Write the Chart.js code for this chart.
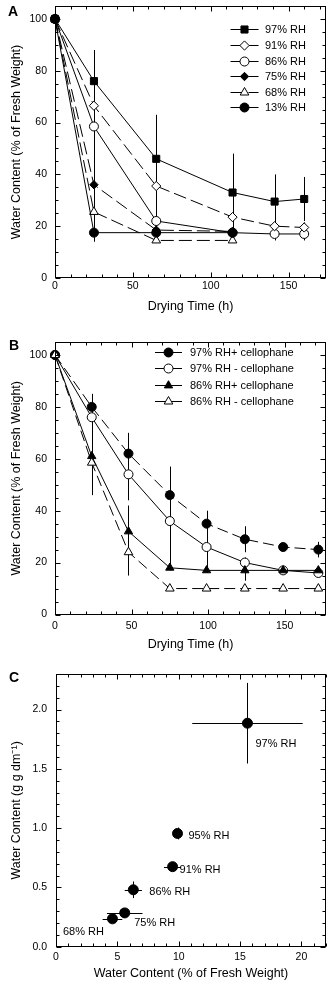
<!DOCTYPE html>
<html>
<head>
<meta charset="utf-8">
<script src="https://cdn.jsdelivr.net/npm/chart.js@4.4.1/dist/chart.umd.min.js"></script>
<style>
  html, body { margin: 0; padding: 0; background: #fff; }
  body { width: 332px; height: 982px; position: relative; overflow: hidden; }
  canvas { position: absolute; left: 0; }
</style>
</head>
<body>
<canvas id="chartA" width="332" height="316" style="top:0px"></canvas>
<canvas id="chartB" width="332" height="318" style="top:336px"></canvas>
<canvas id="chartC" width="332" height="318" style="top:664px"></canvas>
<script>
// ---- Panel A: drying at different RH ----
const timeA = [0, 25, 65, 114, 141, 160];
const timeAShort = [0, 25, 65, 114];
const rh97A = [100, 76, 46, 33, 29.5, 30.5];
const rh97AErr = [0, 12, 17, 15, 10.5, 8.5];
const rh91A = [100, 66.5, 35.5, 23.5, 20, 19.5];
const rh91AErr = [0, 10, 12, 5, 2, 2];
const rh86A = [100, 58.5, 22, 17.5, 17, 17];
const rh86AErr = [0, 20, 5, 1, 2.5, 2.5];
const rh75A = [100, 36, 18.5, 18];
const rh75AErr = [0, 12, 1, 1];
const rh68A = [100, 25.5, 14.5, 14.5];
const rh68AErr = [0, 10, 1, 1];
const rh13A = [100, 17.5, 17.5, 17.5];
const rh13AErr = [0, 3.5, 1, 1];
const xTicksA = [0, 50, 100, 150];
const yTicksA = [0, 20, 40, 60, 80, 100];

// ---- Panel B: with / without cellophane ----
const timeB = [0, 24, 48, 75, 99, 124, 149, 172];
const plus97B = [100, 80, 62, 46, 35, 29, 26, 25];
const plus97BErr = [0, 5, 8, 11, 5, 5, 1.5, 3];
const minus97B = [100, 76, 54, 36, 26, 20, 17, 16];
const minus97BErr = [0, 9, 10, 17, 9, 2, 1.5, 1.5];
const plus86B = [100, 61, 32, 18, 17, 17, 17, 17];
const plus86BErr = [0, 6, 10, 1, 1, 4, 1.5, 1];
const minus86B = [100, 58.5, 24, 10, 10, 10, 10, 10];
const minus86BErr = [0, 12.5, 9, 0.5, 0.5, 0.5, 0.5, 0.5];
const xTicksB = [0, 50, 100, 150];
const yTicksB = [0, 20, 40, 60, 80, 100];

// ---- Panel C: % FW vs g g dm-1 ----
const rhLabelsC = ['97% RH', '95% RH', '91% RH', '86% RH', '75% RH', '68% RH'];
const pctFW = [15.6, 9.9, 9.5, 6.3, 5.6, 4.6];
const pctFWErr = [4.5, 0.3, 0.7, 0.7, 1.45, 0.8];
const ggdm = [1.885, 0.955, 0.675, 0.48, 0.285, 0.235];
const ggdmErr = [0.34, 0.05, 0.03, 0.07, 0.03, 0.03];
const xTicksC = [0, 5, 10, 15, 20];
const yTicksC = [0, 0.5, 1, 1.5, 2];
const yTickLabelsC = ['0.0', '0.5', '1.0', '1.5', '2.0'];

const FONT = "'Liberation Sans', Arial, Helvetica, sans-serif";
Chart.defaults.font.family = FONT;
Chart.defaults.color = '#000';

function series(label, xs, ys, errY, style) {
  return Object.assign({
    label,
    data: xs.map((x, i) => ({ x, y: ys[i] })),
    errY,
    showLine: true,
    tension: 0,
    borderColor: '#000',
    borderWidth: 1,
    pointBorderColor: '#000',
    pointBorderWidth: 1,
    pointHoverRadius: 0,
    clip: false
  }, style);
}

// error bars under the marks, boxed frame with inward ticks, legend, labels
const decor = {
  id: 'decor',
  beforeDatasetsDraw(chart) {
    const { ctx, scales: { x, y } } = chart;
    ctx.save();
    ctx.strokeStyle = '#000';
    ctx.lineWidth = 1;
    chart.data.datasets.forEach(ds => {
      ds.data.forEach((p, i) => {
        const px = Math.round(x.getPixelForValue(p.x)) + 0.5;
        const py = Math.round(y.getPixelForValue(p.y)) + 0.5;
        ctx.beginPath();
        if (ds.errY && ds.errY[i]) {
          ctx.moveTo(px, y.getPixelForValue(p.y - ds.errY[i]));
          ctx.lineTo(px, y.getPixelForValue(p.y + ds.errY[i]));
        }
        if (ds.errX && ds.errX[i]) {
          ctx.moveTo(x.getPixelForValue(p.x - ds.errX[i]), py);
          ctx.lineTo(x.getPixelForValue(p.x + ds.errX[i]), py);
        }
        ctx.stroke();
      });
    });
    ctx.restore();
  },
  afterDraw(chart, args, opts) {
    const { ctx, chartArea: a, scales: { x, y } } = chart;
    const L = Math.round(a.left) + 0.5, R = Math.round(a.right) - 0.5;
    const T = Math.round(a.top) + 0.5, B = Math.round(a.bottom) - 0.5;
    ctx.save();
    ctx.strokeStyle = '#000';
    ctx.lineWidth = 1;
    ctx.strokeRect(L, T, R - L, B - T);
    ctx.beginPath();
    const nx = Math.floor(x.max / opts.xMinor + 1e-6);
    for (let k = 0; k <= nx; k++) {
      const v = k * opts.xMinor;
      const len = opts.xMajor.some(m => Math.abs(m - v) < 1e-6) ? 5 : 3;
      const px = Math.round(x.getPixelForValue(v)) + 0.5;
      ctx.moveTo(px, B); ctx.lineTo(px, B - len);
      ctx.moveTo(px, T); ctx.lineTo(px, T + len);
    }
    const ny = Math.floor(y.max / opts.yMinor + 1e-6);
    for (let k = 0; k <= ny; k++) {
      const v = k * opts.yMinor;
      const len = opts.yMajor.some(m => Math.abs(m - v) < 1e-6) ? 5 : 3;
      const py = Math.round(y.getPixelForValue(v)) + 0.5;
      ctx.moveTo(L, py); ctx.lineTo(L + len, py);
      ctx.moveTo(R, py); ctx.lineTo(R - len, py);
    }
    ctx.stroke();

    // panel letter
    ctx.fillStyle = '#000';
    ctx.font = 'bold 14px ' + FONT;
    ctx.textBaseline = 'alphabetic';
    ctx.textAlign = 'left';
    ctx.fillText(opts.tag.text, opts.tag.x, opts.tag.y);

    // legend
    if (opts.legend) {
      const lg = opts.legend;
      ctx.font = '11px ' + FONT;
      ctx.textBaseline = 'middle';
      chart.data.datasets.forEach((ds, i) => {
        const cy = Math.round(lg.y + i * lg.rowH) + 0.5;
        ctx.save();
        ctx.setLineDash(ds.borderDash || []);
        ctx.beginPath();
        ctx.moveTo(lg.x, cy); ctx.lineTo(lg.x + lg.lineW, cy);
        ctx.stroke();
        ctx.restore();
        ctx.fillStyle = ds.pointBackgroundColor;
        ctx.strokeStyle = '#000';
        ctx.lineWidth = 1;
        Chart.helpers.drawPoint(ctx, {
          pointStyle: ds.pointStyle, radius: ds.pointRadius, rotation: 0, borderWidth: 1
        }, lg.x + lg.lineW / 2, cy);
        ctx.fillStyle = '#000';
        ctx.fillText(ds.label, lg.x + lg.lineW + lg.gap, cy + 0.5);
      });
    }

    // point labels
    if (opts.pointLabels) {
      const ds = chart.data.datasets[0];
      ctx.font = '11px ' + FONT;
      ctx.textBaseline = 'middle';
      ctx.fillStyle = '#000';
      opts.pointLabels.texts.forEach((t, i) => {
        const p = ds.data[i];
        const off = opts.pointLabels.offsets[i];
        ctx.fillText(t, x.getPixelForValue(p.x) + off[0], y.getPixelForValue(p.y) + off[1]);
      });
    }
    ctx.restore();
  }
};

function axes(cfg) {
  const tickFont = { size: 10.5, family: FONT };
  const titleFont = { size: 12.5, family: FONT };
  return {
    x: {
      type: 'linear', min: 0, max: cfg.xMax,
      afterBuildTicks: s => { s.ticks = cfg.xTicks.map(v => ({ value: v })); },
      afterFit: s => { s.height = cfg.xHeight; s.paddingLeft = 0; s.paddingRight = 0; },
      grid: { display: false, drawTicks: false },
      border: { display: false },
      ticks: { autoSkip: false, maxRotation: 0, padding: cfg.xTickPad, font: tickFont, color: '#000',
        callback: (v, i) => cfg.xLabels ? cfg.xLabels[i] : String(v) },
      title: { display: true, text: cfg.xTitle, font: titleFont, color: '#000', padding: { top: 0, bottom: cfg.xTitlePad } }
    },
    y: {
      type: 'linear', min: 0, max: cfg.yMax,
      afterBuildTicks: s => { s.ticks = cfg.yTicks.map(v => ({ value: v })); },
      afterFit: s => { s.width = cfg.yWidth; s.paddingTop = 0; s.paddingBottom = 0; },
      grid: { display: false, drawTicks: false },
      border: { display: false },
      ticks: { autoSkip: false, padding: cfg.yTickPad, font: tickFont, color: '#000',
        callback: (v, i) => cfg.yLabels ? cfg.yLabels[i] : String(v) },
      title: { display: true, text: cfg.yTitle, font: titleFont, color: '#000', padding: { top: 9.5, bottom: 0 } }
    }
  };
}

const dashA = [13, 5];
const dashB = [11, 5];

// Panel A
new Chart(document.getElementById('chartA'), {
  type: 'scatter',
  data: {
    datasets: [
      series('97% RH', timeA, rh97A, rh97AErr, { pointStyle: 'rect', pointRadius: 5, pointBackgroundColor: '#000', order: 2 }),
      series('91% RH', timeA, rh91A, rh91AErr, { pointStyle: 'rectRot', pointRadius: 4.6, pointBackgroundColor: '#fff', borderDash: dashA, order: 3 }),
      series('86% RH', timeA, rh86A, rh86AErr, { pointStyle: 'circle', pointRadius: 4.5, pointBackgroundColor: '#fff', order: 4 }),
      series('75% RH', timeAShort, rh75A, rh75AErr, { pointStyle: 'rectRot', pointRadius: 4.2, pointBackgroundColor: '#000', borderDash: dashA, order: 5 }),
      series('68% RH', timeAShort, rh68A, rh68AErr, { pointStyle: 'triangle', pointRadius: 5, pointBackgroundColor: '#fff', borderDash: dashA, order: 6 }),
      series('13% RH', timeAShort, rh13A, rh13AErr, { pointStyle: 'circle', pointRadius: 4.5, pointBackgroundColor: '#000', order: 1 })
    ]
  },
  options: {
    responsive: false, animation: false, events: [],
    layout: { padding: { top: 5, right: 5, bottom: 0, left: 0 } },
    plugins: {
      legend: { display: false }, tooltip: { enabled: false },
      decor: {
        xMinor: 10, yMinor: 5, xMajor: xTicksA, yMajor: yTicksA,
        tag: { text: 'A', x: 8, y: 15.5 },
        legend: { x: 230.5, y: 29.3, rowH: 15.6, lineW: 28, gap: 6.5 }
      }
    },
    scales: axes({
      xMax: 174, yMax: 105, xTicks: xTicksA, yTicks: yTicksA,
      xTitle: 'Drying Time (h)', yTitle: 'Water Content (% of Fresh Weight)',
      xHeight: 38, yWidth: 55, xTickPad: 2, yTickPad: 8, xTitlePad: 2
    })
  },
  plugins: [decor]
});

// Panel B
new Chart(document.getElementById('chartB'), {
  type: 'scatter',
  data: {
    datasets: [
      series('97% RH+ cellophane', timeB, plus97B, plus97BErr, { pointStyle: 'circle', pointRadius: 4.5, pointBackgroundColor: '#000', borderDash: dashB, order: 3 }),
      series('97% RH - cellophane', timeB, minus97B, minus97BErr, { pointStyle: 'circle', pointRadius: 4.5, pointBackgroundColor: '#fff', order: 4 }),
      series('86% RH+ cellophane', timeB, plus86B, plus86BErr, { pointStyle: 'triangle', pointRadius: 4.8, pointBackgroundColor: '#000', order: 2 }),
      series('86% RH - cellophane', timeB, minus86B, minus86BErr, { pointStyle: 'triangle', pointRadius: 5, pointBackgroundColor: '#fff', borderDash: dashB, order: 1 })
    ]
  },
  options: {
    responsive: false, animation: false, events: [],
    layout: { padding: { top: 4.7, right: 5, bottom: 0, left: 0 } },
    plugins: {
      legend: { display: false }, tooltip: { enabled: false },
      decor: {
        xMinor: 10, yMinor: 5, xMajor: xTicksB, yMajor: yTicksB,
        tag: { text: 'B', x: 9, y: 13.5 },
        legend: { x: 155, y: 15.7, rowH: 16.4, lineW: 27, gap: 8 }
      }
    },
    scales: axes({
      xMax: 177, yMax: 105, xTicks: xTicksB, yTicks: yTicksB,
      xTitle: 'Drying Time (h)', yTitle: 'Water Content (% of Fresh Weight)',
      xHeight: 39.5, yWidth: 55, xTickPad: 5, yTickPad: 8, xTitlePad: 2
    })
  },
  plugins: [decor]
});

// Panel C
new Chart(document.getElementById('chartC'), {
  type: 'scatter',
  data: {
    datasets: [
      Object.assign(series('C', pctFW, ggdm, ggdmErr, {
        pointStyle: 'circle', pointRadius: 5, pointBackgroundColor: '#000', showLine: false
      }), { errX: pctFWErr })
    ]
  },
  options: {
    responsive: false, animation: false, events: [],
    layout: { padding: { top: 10, right: 5, bottom: 0, left: 0 } },
    plugins: {
      legend: { display: false }, tooltip: { enabled: false },
      decor: {
        xMinor: 1, yMinor: 0.1, xMajor: xTicksC, yMajor: yTicksC,
        tag: { text: 'C', x: 9, y: 17.7 },
        pointLabels: {
          texts: rhLabelsC,
          offsets: [[8, 21], [11, 2], [7, 3], [16, 2.5], [9.5, 10], [-49.5, 13]]
        }
      }
    },
    scales: axes({
      xMax: 22, yMax: 2.3, xTicks: xTicksC, yTicks: yTicksC, yLabels: yTickLabelsC,
      xTitle: 'Water Content (% of Fresh Weight)', yTitle: 'Water Content (g g dm\u207B\u00B9)',
      xHeight: 35.3, yWidth: 56, xTickPad: 4.3, yTickPad: 9, xTitlePad: 1
    })
  },
  plugins: [decor]
});
</script>
</body>
</html>
